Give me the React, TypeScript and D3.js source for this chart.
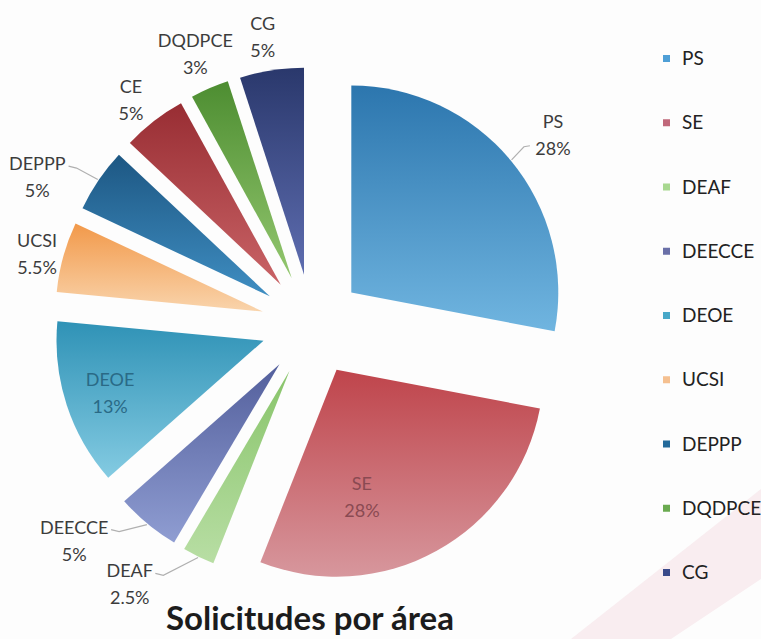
import React from "react";
import * as d3 from "d3";

// ---- data ----
const categories = ["PS", "SE", "DEAF", "DEECCE", "DEOE", "UCSI", "DEPPP", "CE", "DQDPCE", "CG"];
const percentages = [28, 28, 2.5, 5, 13, 5.5, 5, 5, 3, 5];
const pctLabels = ["28%", "28%", "2.5%", "5%", "13%", "5.5%", "5%", "5%", "3%", "5%"];
const legendItems = ["PS", "SE", "DEAF", "DEECCE", "DEOE", "UCSI", "DEPPP", "DQDPCE", "CG"];
const titleText = "Solicitudes por área";

// ---- styles ----
const colorTop = ["#2c76ae", "#bf444b", "#88c46a", "#535f9c", "#2f92b6", "#f2994a", "#1d5783", "#982d33", "#4d8d31", "#2a386c"];
const colorBottom = ["#70b5e0", "#d7979d", "#b8dea4", "#8f9dd2", "#84cbe2", "#f9d4ac", "#3f8ec2", "#c96366", "#93c76f", "#5e6db0"];
const legendColors = ["#4f9fd6", "#c0687a", "#a8d890", "#6a70a8", "#48a8c8", "#f5c090", "#236a9a", "#6aaa50", "#3a4a8a"];

// label layout (polar, relative to pie centre): angle in degrees, radius in px
const labelAngle = [51.7, 163.8, 215.1, 227.8, 251.4, 284.5, 298.3, 321.2, 336.7, 350.3];
const labelRadius = [307, 179, 317, 321, 213, 284, 312, 289, 295, 292];
const labelInside = [false, true, false, false, true, false, false, false, false, false];
const labelLeader = [true, false, true, true, false, false, true, false, false, false];
const insideColors: Record<string, string> = { SE: "#8a4a52", DEOE: "#2a6a86" };

const W = 761;
const H = 639;
const cx = 312;
const cy = 325;
const R = 207;
const explode = 51;
const FONT = "Lato, 'Open Sans', sans-serif";

export default function App() {
  const pie = d3
    .pie<number>()
    .sort(null)
    .value((d) => d)
    .startAngle(0)
    .endAngle(2 * Math.PI);
  const arcs = pie(percentages);
  const arcGen = d3.arc<d3.PieArcDatum<number>>().innerRadius(0).outerRadius(R);

  const polar = (angDeg: number, r: number): [number, number] => {
    const a = (angDeg * Math.PI) / 180;
    return [cx + r * Math.sin(a), cy - r * Math.cos(a)];
  };

  const legendY = d3.scalePoint<string>().domain(legendItems).range([58, 572]);

  return (
    <svg
      width={W}
      height={H}
      style={{ position: "absolute", left: 0, top: 0, background: "#fdfdfd" }}
      xmlns="http://www.w3.org/2000/svg"
    >
      <defs>
        {categories.map((c, i) => (
          <linearGradient key={c} id={`g${i}`} x1="0" y1="0" x2="0" y2="1">
            <stop offset="0%" stopColor={colorTop[i]} />
            <stop offset="100%" stopColor={colorBottom[i]} />
          </linearGradient>
        ))}
      </defs>
      <rect x={0} y={0} width={W} height={H} fill="#fdfdfd" />
      <polygon points={`${W - 190},${H} ${W},${H - 150} ${W},${H - 60} ${W - 90},${H}`} fill="#f6e6ea" opacity={0.7} />

      {arcs.map((a, i) => {
        const mid = (a.startAngle + a.endAngle) / 2;
        const dx = explode * Math.sin(mid);
        const dy = -explode * Math.cos(mid);
        return (
          <path
            key={categories[i]}
            d={arcGen(a) || ""}
            transform={`translate(${cx + dx},${cy + dy})`}
            fill={`url(#g${i})`}
          />
        );
      })}

      {arcs.map((a, i) => {
        if (!labelLeader[i]) return null;
        const mid = (a.startAngle + a.endAngle) / 2;
        const midDeg = (mid * 180) / Math.PI;
        const start = polar(midDeg, explode + R + 1);
        const [lx, ly] = polar(labelAngle[i], labelRadius[i]);
        const right = lx > cx;
        const nameW = categories[i].length * 11.3;
        const pctW = pctLabels[i].length * 10;
        const end: [number, number] = right
          ? [lx - pctW / 2 - 8, ly + 11]
          : [lx + nameW / 2 + 3, ly - 11];
        const midPt: [number, number] = right ? [end[0] - 6, end[1] + 1] : [end[0] + 8, end[1] + 2];
        return (
          <polyline
            key={`l${i}`}
            points={`${start[0]},${start[1]} ${midPt[0]},${midPt[1]} ${end[0]},${end[1]}`}
            fill="none"
            stroke="#b0b0b0"
            strokeWidth={1.2}
          />
        );
      })}

      {arcs.map((a, i) => {
        const [lx, ly] = polar(labelAngle[i], labelRadius[i]);
        const fill = labelInside[i] ? insideColors[categories[i]] : "#3c3c3c";
        return (
          <text
            key={`t${i}`}
            x={lx}
            y={ly}
            textAnchor="middle"
            fontFamily={FONT}
            fontSize={18}
            fill={fill}
          >
            <tspan x={lx} dy={-7}>
              {categories[i]}
            </tspan>
            <tspan x={lx} dy={27}>
              {pctLabels[i]}
            </tspan>
          </text>
        );
      })}

      {legendItems.map((c, i) => {
        const y = legendY(c) || 0;
        return (
          <g key={`lg${c}`}>
            <rect x={663} y={y - 3} width={7} height={7} fill={legendColors[i]} />
            <text x={682} y={y + 7} fontFamily={FONT} fontSize={19} fill="#222">
              {c}
            </text>
          </g>
        );
      })}

      <text x={310} y={630} textAnchor="middle" fontFamily={FONT} fontWeight="bold" fontSize={33} fill="#1c1c1c">
        {titleText}
      </text>
    </svg>
  );
}
